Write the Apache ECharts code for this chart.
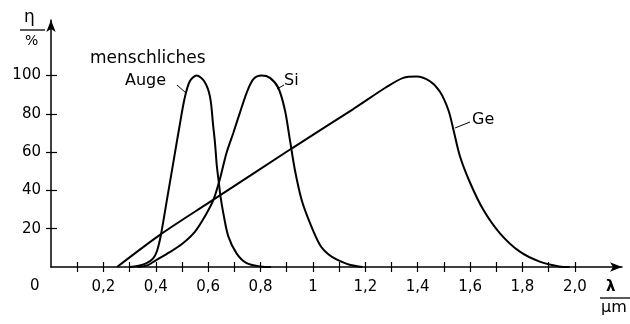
<!DOCTYPE html>
<html><head><meta charset="utf-8">
<script src="https://cdn.jsdelivr.net/npm/echarts@6/dist/echarts.min.js"></script>
<style>html,body{margin:0;padding:0;background:#fff}#c{width:630px;height:324px}</style>
</head><body><div id="c"></div>
<script>
// Human eye (menschliches Auge)
const eyeX = [0.30, 0.33, 0.365, 0.39, 0.405, 0.42, 0.44, 0.47, 0.49, 0.51, 0.53, 0.556, 0.585, 0.607, 0.619, 0.626, 0.633, 0.64, 0.647, 0.658, 0.677, 0.709, 0.747, 0.80, 0.84];
const eyeY = [0, 0.5, 2, 4.5, 8.5, 17, 33, 57, 73, 88, 97, 100, 97, 89, 74, 65, 53, 45, 37, 28, 16, 7, 2, 0.3, 0];
// Silicon
const siX = [0.33, 0.37, 0.40, 0.45, 0.50, 0.55, 0.59, 0.62, 0.645, 0.67, 0.696, 0.721, 0.747, 0.772, 0.804, 0.836, 0.868, 0.893, 0.912, 0.931, 0.957, 0.989, 1.027, 1.06, 1.09, 1.14, 1.19];
const siY = [0, 1, 3.5, 7.5, 12, 18.5, 27, 35, 46, 59.5, 70, 80.5, 91, 98, 100, 98.8, 93.5, 82, 66.5, 50.8, 35, 22.9, 11.5, 6.5, 4, 1.2, 0];
// Germanium
const geX = [0.252, 0.416, 0.607, 0.92, 1.154, 1.281, 1.345, 1.396, 1.447, 1.485, 1.517, 1.536, 1.561, 1.60, 1.65, 1.714, 1.79, 1.866, 1.94, 1.98];
const geY = [0, 16.8, 34, 62, 82.5, 94, 98.8, 99.5, 97, 91.5, 82, 72, 58, 44, 30, 17.6, 8, 2.8, 0.3, 0];

const xTickValues = [0.1, 0.2, 0.3, 0.4, 0.5, 0.6, 0.7, 0.8, 0.9, 1.0, 1.1, 1.2, 1.3, 1.4, 1.5, 1.6, 1.7, 1.8, 1.9, 2.0];
const xLabelValues = [0.2, 0.4, 0.6, 0.8, 1.0, 1.2, 1.4, 1.6, 1.8, 2.0];
const xLabelTexts = ['0,2', '0,4', '0,6', '0,8', '1', '1,2', '1,4', '1,6', '1,8', '2,0'];
const yTickValues = [20, 40, 60, 80, 100];
const yLabelTexts = ['20', '40', '60', '80', '100'];

const FONT = 'DejaVu Sans';
const chart = echarts.init(document.getElementById('c'), null, {renderer: 'canvas'});

function pairs(xs, ys) { return xs.map((x, i) => [x, ys[i]]); }
function xFmt(v) {
  const i = xLabelValues.findIndex(t => Math.abs(t - v) < 1e-6);
  return i >= 0 ? xLabelTexts[i] : '';
}
function yFmt(v) {
  const i = yTickValues.findIndex(t => Math.abs(t - v) < 1e-6);
  return i >= 0 ? yLabelTexts[i] : '';
}

const XMAX = 2.18, YMAX = 129;
const lineStyle = {color: '#000', width: 1.5};
const tickStyle = {color: '#000', width: 1.2};
const curve = {color: '#000', width: 2};

const option = {
  animation: false,
  backgroundColor: '#fff',
  grid: {left: 51, right: 8, top: 20, bottom: 57},
  xAxis: [
    {
      type: 'value', min: 0, max: XMAX,
      axisLine: {show: true, lineStyle: lineStyle, symbol: ['none', 'arrow'], symbolSize: [7, 12]},
      axisTick: {show: true, customValues: xTickValues, length: 5, inside: false, lineStyle: tickStyle},
      axisLabel: {show: true, customValues: xLabelValues, formatter: xFmt, margin: 13, fontSize: 15, color: '#000', fontFamily: FONT},
      splitLine: {show: false}
    },
    {
      type: 'value', min: 0, max: XMAX, position: 'bottom',
      axisLine: {show: false},
      axisTick: {show: true, customValues: xTickValues, length: 5, inside: true, lineStyle: tickStyle},
      axisLabel: {show: false},
      splitLine: {show: false}
    }
  ],
  yAxis: [
    {
      type: 'value', min: 0, max: YMAX,
      axisLine: {show: true, lineStyle: lineStyle, symbol: ['none', 'arrow'], symbolSize: [7, 12]},
      axisTick: {show: true, customValues: yTickValues, length: 5, inside: false, lineStyle: tickStyle},
      axisLabel: {show: true, customValues: yTickValues, formatter: yFmt, margin: 10, fontSize: 15, color: '#000', fontFamily: FONT},
      splitLine: {show: false}
    },
    {
      type: 'value', min: 0, max: YMAX, position: 'left',
      axisLine: {show: false},
      axisTick: {show: true, customValues: yTickValues, length: 6, inside: true, lineStyle: tickStyle},
      axisLabel: {show: false},
      splitLine: {show: false}
    }
  ],
  series: [
    {name: 'menschliches Auge', type: 'line', data: pairs(eyeX, eyeY), showSymbol: false, smooth: 0.3, lineStyle: curve},
    {name: 'Si', type: 'line', data: pairs(siX, siY), showSymbol: false, smooth: 0.3, lineStyle: curve},
    {name: 'Ge', type: 'line', data: pairs(geX, geY), showSymbol: false, smooth: 0.3, lineStyle: curve}
  ],
  graphic: [
    {type: 'text', left: 30, top: 279, style: {text: '0', font: '15px ' + FONT, fill: '#000'}},
    {type: 'text', left: 24, top: 9, style: {text: 'η', font: '17px ' + FONT, fill: '#000'}},
    {type: 'line', shape: {x1: 20, y1: 30, x2: 45, y2: 30}, style: {stroke: '#000', lineWidth: 1.3}},
    {type: 'text', left: 25, top: 34, style: {text: '%', font: '14px ' + FONT, fill: '#000'}},
    {type: 'text', left: 606, top: 280, style: {text: 'λ', font: 'bold 15px ' + FONT, fill: '#000'}},
    {type: 'line', shape: {x1: 600, y1: 298, x2: 630, y2: 298}, style: {stroke: '#000', lineWidth: 1.3}},
    {type: 'text', left: 601, top: 300, style: {text: 'μm', font: '16px ' + FONT, fill: '#000'}},
    {type: 'text', left: 90, top: 50, style: {text: 'menschliches', font: '17px ' + FONT, fill: '#000'}},
    {type: 'text', left: 125, top: 73, style: {text: 'Auge', font: '16px ' + FONT, fill: '#000'}},
    {type: 'line', shape: {x1: 177, y1: 85, x2: 186, y2: 93}, style: {stroke: '#000', lineWidth: 1}},
    {type: 'text', left: 284, top: 73, style: {text: 'Si', font: '16px ' + FONT, fill: '#000'}},
    {type: 'line', shape: {x1: 277, y1: 89, x2: 284, y2: 85}, style: {stroke: '#000', lineWidth: 1}},
    {type: 'text', left: 472, top: 112, style: {text: 'Ge', font: '16px ' + FONT, fill: '#000'}},
    {type: 'line', shape: {x1: 455, y1: 128, x2: 470, y2: 122}, style: {stroke: '#000', lineWidth: 1}}
  ]
};
chart.setOption(option);
</script>
</body></html>
